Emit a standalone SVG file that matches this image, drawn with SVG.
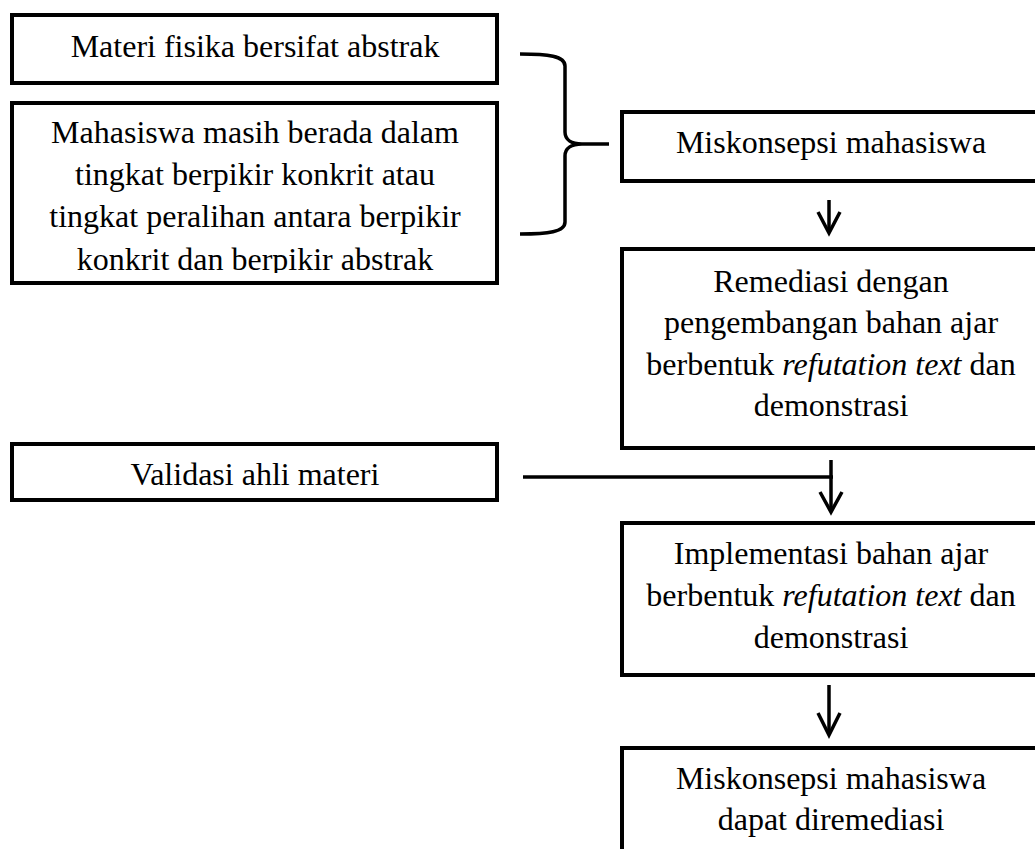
<svg xmlns="http://www.w3.org/2000/svg" width="1035" height="849" viewBox="0 0 1035 849">
<style>
.box{fill:#fff;stroke:#000;stroke-width:4}
.t{font-family:"Liberation Serif","Times New Roman",serif;font-size:32px;fill:#000;text-anchor:middle}
.ln{fill:none;stroke:#000;stroke-width:3.5;stroke-linecap:butt}
.ah{fill:none;stroke:#000;stroke-width:3.5;stroke-linejoin:miter}
</style>
<defs>
<clipPath id="clip2"><rect x="14" y="105" width="481" height="168"/></clipPath>
</defs>
<rect width="1035" height="849" fill="#fff"/>
<g id="n1">
<rect class="box" x="12" y="15" width="485" height="68"/>
<text class="t" x="255" y="57">Materi fisika bersifat abstrak</text>
</g>
<g id="n2">
<rect class="box" x="12" y="103" width="485" height="180"/>
<g clip-path="url(#clip2)">
<text class="t" x="255" y="143">Mahasiswa masih berada dalam</text>
<text class="t" x="255" y="185">tingkat berpikir konkrit atau</text>
<text class="t" x="255" y="227">tingkat peralihan antara berpikir</text>
<text class="t" x="255" y="270">konkrit dan berpikir abstrak</text>
</g>
</g>
<g id="n3">
<rect class="box" x="622" y="112" width="420" height="69"/>
<text class="t" x="831" y="153">Miskonsepsi mahasiswa</text>
</g>
<g id="n4">
<rect class="box" x="622" y="249" width="420" height="199"/>
<text class="t" x="831" y="292">Remediasi dengan</text>
<text class="t" x="831" y="333">pengembangan bahan ajar</text>
<text class="t" x="831" y="375">berbentuk <tspan font-style="italic">refutation text</tspan> dan</text>
<text class="t" x="831" y="416">demonstrasi</text>
</g>
<g id="n5">
<rect class="box" x="12" y="444" width="485" height="56"/>
<text class="t" x="255" y="485">Validasi ahli materi</text>
</g>
<g id="n6">
<rect class="box" x="622" y="523" width="420" height="152"/>
<text class="t" x="831" y="564">Implementasi bahan ajar</text>
<text class="t" x="831" y="606">berbentuk <tspan font-style="italic">refutation text</tspan> dan</text>
<text class="t" x="831" y="648">demonstrasi</text>
</g>
<g id="n7">
<rect class="box" x="622" y="748" width="420" height="120"/>
<text class="t" x="831" y="789">Miskonsepsi mahasiswa</text>
<text class="t" x="831" y="830">dapat diremediasi</text>
</g>
<g id="connectors">
<path class="ln" stroke-width="4" d="M520,54 C548,54 565,56 565,66 L565,132 C565,140 572,144 582,144 L609,144 M582,144 C572,144 565,148 565,156 L565,222 C565,232 548,234 520,234"/>
<line class="ln" x1="829" y1="200" x2="829" y2="232"/>
<polyline class="ah" points="818,212 829,233 840,212"/>
<line class="ln" x1="523" y1="477" x2="833" y2="477"/>
<line class="ln" x1="831" y1="460" x2="831" y2="511"/>
<polyline class="ah" points="820,492 831,512 842,492"/>
<line class="ln" x1="829" y1="685" x2="829" y2="734"/>
<polyline class="ah" points="818,713 829,735 840,713"/>
</g>
</svg>
